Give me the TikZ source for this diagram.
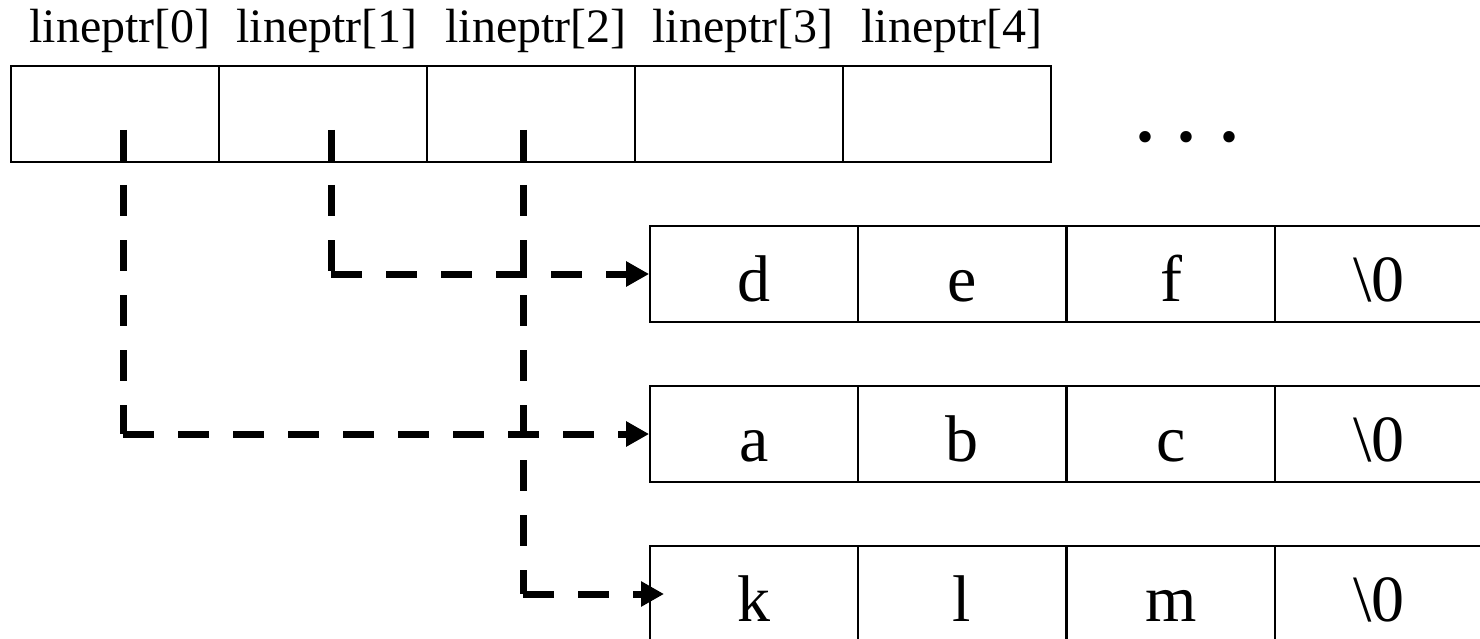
\documentclass[tikz,border=0pt]{standalone}
\usepackage{fontspec}
\setmainfont{Liberation Serif}
\usetikzlibrary{arrows.meta}
\begin{document}
\begin{tikzpicture}[x=1pt,y=-1pt,
  ptrcell/.style={draw,line width=1.8pt,minimum width=208pt,minimum height=96pt,inner sep=0pt},
  strcell/.style={ptrcell,font=\fontsize{66}{66}\selectfont,text height=54pt,text depth=0pt},
  ptrlabel/.style={anchor=base,inner sep=0pt,font=\fontsize{48}{48}\selectfont},
  link/.style={line width=7pt,dash pattern=on 31pt off 24pt},
  linkhead/.style={link,-{Triangle[length=23pt,width=24pt]}}]
\useasboundingbox (0,0) rectangle (1480,639);

% pointer array lineptr[0..4]
\foreach \i in {0,...,4}{
  \node[ptrcell] (c\i) at (115+208*\i,114) {};
}
\foreach \i/\x in {0/120,1/327,2/536,3/743,4/952}{
  \node[ptrlabel] (l\i) at (\x,43) {lineptr[\i]};
}
\node[anchor=base,inner sep=0pt,font=\fontsize{96}{96}\selectfont] (dots) at (1187,142) {.\hspace{18pt}.\hspace{18pt}.};

% character strings
\foreach \r/\y/\a/\b/\c in {1/274/d/e/f, 2/434/a/b/c, 3/594/k/l/m}{
  \node[strcell] (s\r a) at (754,\y) {\a};
  \node[strcell] (s\r b) at (962,\y) {\b};
  \node[strcell] (s\r c) at (1171,\y) {\c};
  \node[strcell] (s\r d) at (1379,\y) {\textbackslash 0};
}

% pointer start points and elbows
\coordinate (p0) at (123,130);
\coordinate (p1) at (331,130);
\coordinate (p2) at (523,130);
\coordinate (e0) at (123,434);
\coordinate (e1) at (331,274);
\coordinate (e2) at (523,594);
\coordinate (t2) at (664,594);

\draw[link] (p0) -- (e0);
\draw[linkhead] (e0) -- (s2a.west);
\draw[link] (p1) -- (e1);
\draw[linkhead] (e1) -- (s1a.west);
\draw[link] (p2) -- (e2);
\draw[linkhead] (e2) -- (t2);
\end{tikzpicture}
\end{document}
